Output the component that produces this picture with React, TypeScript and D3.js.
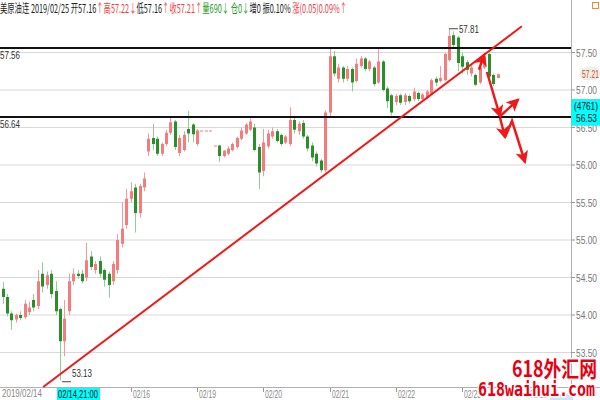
import React from "react";
import * as d3 from "d3";

// ---------- data ----------
const opens = [54.35,54.24,54.02,53.94,54.00,53.97,54.04,54.20,54.12,54.55,54.40,54.55,54.32,54.08,53.65,54.05,54.45,54.55,54.55,54.50,54.78,54.60,54.72,54.60,54.55,54.45,54.60,54.95,55.20,55.55,55.70,55.36,55.70,56.18,56.36,56.35,56.15,56.28,56.43,56.58,56.16,56.20,56.48,56.54,56.28,56.46,56.46,56.46,56.26,56.26,56.12,56.15,56.20,56.24,56.35,56.42,56.47,56.50,56.24,55.92,56.25,56.38,56.45,56.40,56.30,56.28,56.60,56.45,56.56,56.38,56.26,56.15,56.06,55.93,56.70,57.45,57.15,57.30,57.15,57.28,57.12,57.32,57.42,57.28,57.30,57.10,57.38,57.02,56.93,56.84,56.93,56.84,56.92,56.88,56.96,56.88,56.90,56.95,57.15,57.12,57.13,57.40,57.73,57.70,57.45,57.37,57.22,57.20,57.10,57.30,57.48,57.20,57.16];
const highs = [54.44,54.28,54.05,54.02,54.05,54.20,54.18,54.28,54.60,54.70,54.58,54.60,54.45,54.10,54.20,54.55,54.62,54.60,54.60,54.96,54.85,54.72,54.78,54.62,54.58,54.72,55.08,55.50,55.68,55.77,55.75,55.75,55.90,56.42,56.55,56.38,56.30,56.47,56.63,56.60,56.40,56.45,56.72,56.56,56.48,56.46,56.46,56.46,56.26,56.27,56.20,56.25,56.30,56.38,56.50,56.56,56.62,56.55,56.28,56.48,56.47,56.50,56.48,56.42,56.40,56.77,56.65,56.58,56.60,56.40,56.30,56.18,56.08,56.73,57.56,57.52,57.35,57.32,57.32,57.30,57.42,57.45,57.44,57.40,57.32,57.56,57.40,57.05,56.95,56.95,56.95,56.96,56.94,57.03,56.98,56.96,57.00,57.15,57.18,57.32,57.50,57.81,57.78,57.72,57.50,57.40,57.33,57.22,57.35,57.50,57.50,57.22,57.22];
const lows = [54.15,53.98,53.80,53.90,53.93,53.95,54.00,54.05,54.08,54.30,54.35,54.22,54.00,53.13,53.45,54.00,54.40,54.48,54.42,54.45,54.60,54.55,54.50,54.38,54.23,54.40,54.55,54.90,55.15,55.50,55.10,55.30,55.65,56.12,56.20,56.12,56.12,56.25,56.40,56.20,56.12,56.18,56.30,56.30,56.25,56.46,56.46,56.46,56.26,56.04,56.10,56.13,56.18,56.22,56.33,56.40,56.45,56.18,55.68,55.85,56.22,56.35,56.30,56.25,56.28,56.25,56.42,56.40,56.35,56.18,56.05,55.98,55.90,55.90,56.65,57.18,57.10,57.10,57.12,56.98,57.10,57.30,57.25,57.25,57.05,57.08,56.98,56.76,56.66,56.80,56.80,56.80,56.82,56.85,56.85,56.86,56.88,56.93,57.05,57.10,57.12,57.38,57.55,57.25,57.22,57.20,57.18,57.05,57.08,57.28,57.15,57.05,57.16];
const closes = [54.24,54.02,53.93,54.00,53.96,54.15,54.10,54.10,54.45,54.38,54.53,54.28,54.05,53.65,53.95,54.45,54.55,54.52,54.45,54.73,54.64,54.68,54.55,54.47,54.40,54.68,55.00,55.15,55.55,55.65,55.36,55.72,55.82,56.35,56.28,56.15,56.28,56.43,56.57,56.24,56.36,56.40,56.42,56.41,56.46,56.46,56.46,56.46,56.26,56.12,56.19,56.22,56.28,56.36,56.46,56.54,56.58,56.20,55.90,56.30,56.42,56.45,56.32,56.28,56.38,56.60,56.47,56.55,56.38,56.22,56.10,56.02,55.93,56.70,57.45,57.22,57.30,57.15,57.28,57.10,57.35,57.42,57.28,57.38,57.08,57.38,57.00,56.85,56.70,56.92,56.83,56.93,56.85,56.98,56.88,56.94,56.98,57.13,57.10,57.16,57.48,57.72,57.60,57.36,57.31,57.27,57.30,57.07,57.30,57.45,57.18,57.08,57.21];

const yTicks = [53.5, 54.0, 54.5, 55.0, 55.5, 56.0, 56.5, 57.0, 57.5];
const dayTickIdx = [29, 44, 59, 74, 89, 104, 119];
const dayTickLabels = ["02/16", "02/19", "02/20", "02/21", "02/22", "02/23", "02/25"];
const levelLines = [57.56, 56.64];
const trendLine = [{ i: 9.2, p: 53.04 }, { i: 117.5, p: 57.85 }];
const arrowPaths = [
  [{ i: 107.8, p: 57.27 }, { i: 108.95, p: 57.47 }],
  [{ i: 109.6, p: 57.24 }, { i: 112.56, p: 56.65 }],
  [{ i: 112.56, p: 56.65 }, { i: 116.63, p: 56.87 }],
  [{ i: 112.56, p: 56.63 }, { i: 113.69, p: 56.37 }],
  [{ i: 113.69, p: 56.37 }, { i: 115.27, p: 56.59 }, { i: 118.21, p: 56.04 }],
];
const lastPrice = 57.21;
const crossPrice = 56.53;
const crossVol = 4761;

const RED = "#f23c3c";
const GREEN = "#1f9a1f";

const header = [
  { t: "美原油连 ", c: "#222" },
  { t: "2019/02/25 ", c: "#222" },
  { t: "开57.16", c: "#222" },
  { t: "↑", c: RED },
  { t: "高57.22", c: RED },
  { t: "↓", c: RED },
  { t: "低57.16", c: "#222" },
  { t: "↑", c: RED },
  { t: "收57.21", c: RED },
  { t: "↑", c: RED },
  { t: "量690", c: GREEN },
  { t: "↓ ", c: GREEN },
  { t: "仓0", c: GREEN },
  { t: "↓", c: GREEN },
  { t: "增0 ", c: "#222" },
  { t: "振0.10% ", c: "#222" },
  { t: "涨(0.05)0.09%↑", c: RED },
];

const FONT = "'Liberation Sans', Arial, 'Noto Sans CJK SC', sans-serif";
const CJK = "'Noto Sans CJK SC', 'Liberation Sans', sans-serif";

export default function App() {
  const W = 600, H = 400;
  const axisX = 571;
  const axisY = 387;
  const x = d3.scaleLinear().domain([0, 1]).range([2.5, 6.92]);
  const y = d3.scaleLinear().domain([53.5, 57.5]).range([352.5, 52.5]);
  const line = d3.line<{ i: number; p: number }>().x((d) => x(d.i)).y((d) => y(d.p));

  const n = opens.length;
  const candles = d3.range(n).map((i) => ({ i, o: opens[i], h: highs[i], l: lows[i], c: closes[i] }));
  const hiIdx = d3.maxIndex(highs);
  const loIdx = d3.minIndex(lows);

  return (
    <svg width={W} height={H} style={{ position: "absolute", left: 0, top: 0, background: "#fff" }} fontFamily={FONT}>
      <defs>
        <marker id="ah" markerUnits="userSpaceOnUse" markerWidth="13" markerHeight="13" viewBox="0 0 12 12" refX="10" refY="6" orient="auto">
          <path d="M0,0 L12,6 L0,12 L3,6 Z" fill="#f01818" />
        </marker>
        <clipPath id="plot"><rect x={0} y={20} width={axisX} height={axisY - 20} /></clipPath>
      </defs>
      <rect width={W} height={H} fill="#fff" />

      {/* grid */}
      {yTicks.map((t) => (
        <line key={t} x1={0} x2={axisX} y1={y(t)} y2={y(t)} stroke="#d9d9d9" strokeWidth={1.2} />
      ))}

      {/* axes */}
      <line x1={axisX + 0.5} x2={axisX + 0.5} y1={0} y2={axisY} stroke="#b0b0b0" />
      <line x1={0} x2={W} y1={axisY + 0.5} y2={axisY + 0.5} stroke="#b0b0b0" />
      {yTicks.map((t) => (
        <g key={"yt" + t}>
          <line x1={axisX} x2={axisX + 4} y1={y(t)} y2={y(t)} stroke="#999" />
          <text x={576} y={y(t) + 4} fontSize={11} fill="#777" textLength={21} lengthAdjust="spacingAndGlyphs">{t.toFixed(2)}</text>
        </g>
      ))}

      {/* candles */}
      <g clipPath="url(#plot)">
        {candles.map((d) => {
          const up = d.c >= d.o;
          const cx = Math.round(x(d.i));
          const top = y(Math.max(d.o, d.c));
          const bh = Math.max(1, Math.abs(y(d.o) - y(d.c)));
          return (
            <g key={d.i}>
              <line x1={cx + 0.5} x2={cx + 0.5} y1={y(d.h)} y2={y(d.l)} stroke={up ? "#f59a9a" : "#8fcf8f"} strokeWidth={1} />
              <rect x={cx - 1} y={top} width={3} height={bh} fill={up ? "#f47c7c" : "#2a8f2a"} />
            </g>
          );
        })}
      </g>

      {/* level lines */}
      {levelLines.map((v) => (
        <g key={"lv" + v}>
          <line x1={0} x2={axisX} y1={y(v)} y2={y(v)} stroke="#111" strokeWidth={2} />
          <text x={0} y={y(v) + 11} fontSize={11} fill="#333" textLength={20} lengthAdjust="spacingAndGlyphs">{v.toFixed(2)}</text>
        </g>
      ))}

      {/* trend line */}
      <path d={line(trendLine) || ""} stroke="#f01818" strokeWidth={2} fill="none" />

      {/* arrows */}
      {arrowPaths.map((pts, k) => (
        <path key={"ar" + k} d={line(pts) || ""} stroke="#f01818" strokeWidth={2.5} fill="none" markerEnd="url(#ah)" strokeLinejoin="miter" />
      ))}

      {/* hi / lo labels */}
      <line x1={x(hiIdx)} x2={x(hiIdx) + 9} y1={y(highs[hiIdx]) - 0.5} y2={y(highs[hiIdx]) - 0.5} stroke="#444" />
      <text x={x(hiIdx) + 10} y={y(highs[hiIdx]) + 4} fontSize={11} fill="#333" textLength={20} lengthAdjust="spacingAndGlyphs">{highs[hiIdx].toFixed(2)}</text>
      <line x1={x(loIdx) + 2} x2={x(loIdx) + 11} y1={y(lows[loIdx]) + 1.5} y2={y(lows[loIdx]) + 1.5} stroke="#444" />
      <text x={x(loIdx) + 12} y={y(lows[loIdx]) - 3} fontSize={11} fill="#333" textLength={20} lengthAdjust="spacingAndGlyphs">{lows[loIdx].toFixed(2)}</text>

      {/* last price pill */}
      <rect x={580} y={y(lastPrice) - 7} width={20} height={13} rx={6} fill="#e4f3e4" />
      <text x={582} y={y(lastPrice) + 4} fontSize={11} fill={RED} textLength={17} lengthAdjust="spacingAndGlyphs">{lastPrice.toFixed(2)}</text>

      {/* crosshair price box */}
      <rect x={axisX + 0.5} y={y(crossPrice) - 26} width={29} height={26} fill="#00ffff" stroke="#4cc" strokeWidth={0.5} />
      <text x={574} y={y(crossPrice) - 15} fontSize={11} fill="#111" textLength={24} lengthAdjust="spacingAndGlyphs">{`(${crossVol})`}</text>
      <text x={576} y={y(crossPrice) - 3} fontSize={11} fill="#111" textLength={21} lengthAdjust="spacingAndGlyphs">{crossPrice.toFixed(2)}</text>

      {/* x axis labels */}
      <text x={2} y={397} fontSize={11} fill="#888" textLength={40} lengthAdjust="spacingAndGlyphs">2019/02/14</text>
      <rect x={57} y={388} width={43} height={12} fill="#00ffff" />
      <text x={58} y={398} fontSize={11} fill="#111" textLength={40} lengthAdjust="spacingAndGlyphs">02/14,21:00</text>
      {dayTickIdx.map((di, k) => (
        <g key={"dt" + k}>
          <line x1={Math.round(x(di)) + 0.5} x2={Math.round(x(di)) + 0.5} y1={388} y2={392} stroke="#999" />
          <text x={Math.round(x(di)) + 2} y={398} fontSize={11} fill="#888" textLength={17} lengthAdjust="spacingAndGlyphs">{dayTickLabels[k]}</text>
        </g>
      ))}

      {/* header */}
      <rect x={0} y={0} width={axisX} height={19} fill="#fff" />
      <text x={0} y={13} fontSize={12} fontFamily={CJK} textLength={347} lengthAdjust="spacingAndGlyphs">
        {header.map((h, k) => (
          <tspan key={"h" + k} fill={h.c}>{h.t}</tspan>
        ))}
      </text>
      <rect x={592.5} y={2.5} width={6} height={6} fill="none" stroke="#f08a3a" />

      {/* bottom right remnants */}
      <rect x={550} y={394} width={23} height={6} fill="#cfe2f7" />

      {/* watermark */}
      <text x={512} y={377} fontSize={22} fontWeight="bold" fill="#e60012" fontFamily={CJK} textLength={85} lengthAdjust="spacingAndGlyphs" stroke="#fff" strokeWidth={3} paintOrder="stroke">618外汇网</text>
      <text x={478} y={396} fontSize={19} fontWeight="bold" fill="#e60012" fontFamily="'DejaVu Sans Mono', 'Liberation Mono', monospace" textLength={117} lengthAdjust="spacingAndGlyphs" stroke="#fff" strokeWidth={3} paintOrder="stroke">618waihui.com</text>
    </svg>
  );
}
